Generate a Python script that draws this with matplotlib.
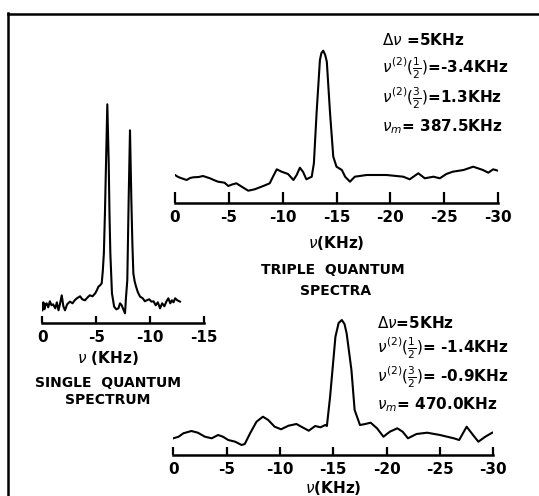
import matplotlib
matplotlib.use("Agg")
import matplotlib.pyplot as plt
from matplotlib.lines import Line2D

plt.rcParams["font.family"] = ["DejaVu Sans"]
plt.rcParams["mathtext.fontset"] = "dejavusans"
plt.rcParams["axes.unicode_minus"] = False

# ---- spectra (frequency in kHz, intensity in arbitrary units) ----
single_freq = [0, -0.1, -0.19, -0.3, -0.4, -0.55, -0.7, -0.85, -1.0, -1.2, -1.35, -1.5,
               -1.65, -1.8, -1.95, -2.1, -2.3, -2.56, -2.8, -3.0, -3.2, -3.5, -3.7, -3.95,
               -4.2, -4.4, -4.65, -4.9, -5.05, -5.2, -5.35, -5.5, -5.6, -5.7, -5.8, -5.9,
               -6.02, -6.15, -6.22, -6.3, -6.45, -6.65, -6.85, -7.05, -7.2, -7.35, -7.5,
               -7.66, -7.75, -7.87, -8.0, -8.12, -8.24, -8.34, -8.43, -8.55, -8.68, -8.85,
               -9.05, -9.3, -9.5, -9.67, -9.9, -10.1, -10.3, -10.5, -10.7, -10.9, -11.1,
               -11.3, -11.5, -11.67, -11.85, -12.0, -12.15, -12.3, -12.5, -12.75]
single_int = [13, 21, 14, 19, 20, 16, 22, 18, 19, 15, 21, 13,
              20, 28, 17, 13, 19, 21.7, 20, 23, 25, 27, 24, 23,
              26, 28, 27, 30, 33, 36.7, 38, 40, 52, 70, 110, 160,
              219, 160, 110, 70, 30, 16.7, 14, 15, 20, 18, 14,
              10, 26, 43, 126, 193, 126, 80, 50, 42, 36.7, 31,
              26.7, 25, 22, 23, 24, 21.7, 22, 18, 21, 15, 20,
              17, 22, 25, 20, 23, 21, 25, 23, 21.7]

triple1_freq = [0, -0.3, -0.62, -1.08, -1.4, -1.7, -2.2, -2.6, -3.25, -3.6, -4.0, -4.6,
                -4.95, -5.3, -5.7, -6.2, -6.8, -7.4, -8.2, -8.8, -9.1, -9.45, -9.9, -10.5,
                -11.0, -11.3, -11.6, -11.9, -12.2, -12.7, -12.9, -13.15, -13.46, -13.6,
                -13.77, -13.95, -14.1, -14.4, -14.7, -15.0, -15.5, -15.8, -16.25, -16.7,
                -17.8, -19.65, -21.2, -21.8, -22.6, -23.2, -24.0, -24.6, -25.2, -25.8,
                -26.8, -27.7, -28.6, -29.1, -29.55, -30]
triple1_int = [28, 26, 24.7, 23, 25, 25.7, 26, 27, 24.7, 23, 21.3, 20.3,
               17, 18.5, 19.7, 16.3, 12.3, 13.7, 17, 19.7, 26.3, 33.7, 31.3, 29,
               23, 28, 35.3, 31, 23.7, 26.3, 39.7, 90, 143, 150,
               152.3, 148, 141.3, 90, 46.3, 36.3, 33, 26.3, 21.3, 26.3,
               28, 28, 26.3, 23.7, 29.7, 24.7, 26.3, 24.7, 29, 31.3,
               33, 36.3, 33, 30.3, 33.7, 32.3]

triple2_freq = [0, -0.5, -0.94, -1.7, -2.3, -2.96, -3.6, -4.2, -4.65, -5.15, -5.8, -6.4,
                -6.7, -7.2, -7.8, -8.4, -8.9, -9.5, -10.1, -10.8, -11.55, -12.0, -12.7,
                -13.3, -13.8, -14.25, -14.4, -14.7, -15.2, -15.5, -15.8, -16.05, -16.25,
                -16.7, -17.0, -17.5, -18.0, -18.5, -19.1, -19.7, -20.3, -21.0, -21.5,
                -22.0, -22.8, -23.8, -25.0, -26.3, -26.8, -27.5, -28.1, -28.6, -29.25, -29.9]
triple2_int = [16.7, 18.3, 21.7, 24, 22.3, 18.3, 16.7, 20, 18.3, 15, 13.3, 10,
               11, 21.7, 33.3, 38.3, 35, 28.3, 25.7, 29.3, 31, 28.3, 24.3,
               29, 27.7, 30, 29, 58.3, 118.3, 132, 135, 131, 121.7,
               85, 45, 30, 31, 32.3, 26.7, 18.3, 23.3, 26.7, 23.3,
               16.7, 21, 22.3, 20, 16.7, 15, 28.3, 20, 13.3, 18.3, 22.3]

triple_ticks = [0, -5, -10, -15, -20, -25, -30]
single_ticks = [0, -5, -10, -15]

W, H = 539, 496
fig = plt.figure(figsize=(W / 100, H / 100), dpi=100)


def px_axes(x0, x1, ybase, height):
    return fig.add_axes([x0 / W, (H - ybase) / H, (x1 - x0) / W, height / H])


def ftext(x, y, s, **kw):
    kw.setdefault("fontweight", "bold")
    return fig.text(x / W, 1 - y / H, s, **kw)


def style_axis(ax, ticks, xmax, ticklen):
    ax.set_xlim(0, xmax)
    ax.set_xticks(ticks)
    ax.set_xticklabels([str(t) for t in ticks], fontsize=11, fontweight="bold")
    ax.set_yticks([])
    for side in ("top", "left", "right"):
        ax.spines[side].set_visible(False)
    ax.spines["bottom"].set_linewidth(1.8)
    ax.tick_params(axis="x", direction="in", length=ticklen, width=1.6, pad=5)
    ax.patch.set_visible(False)


ax_top = px_axes(175, 498, 203, 158)
ax_top.plot(triple1_freq, triple1_int, color="black", lw=1.5)
ax_top.set_ylim(0, 158)
style_axis(ax_top, triple_ticks, -30, 8)

ax_bot = px_axes(173.3, 493.3, 455, 145)
ax_bot.plot(triple2_freq, triple2_int, color="black", lw=1.5)
ax_bot.set_ylim(0, 145)
style_axis(ax_bot, triple_ticks, -30, 6)

ax_sq = px_axes(42.3, 204.3, 323.3, 230)
ax_sq.plot(single_freq, single_int, color="black", lw=1.5)
ax_sq.set_ylim(0, 230)
style_axis(ax_sq, single_ticks, -15, 5)

# axis titles
ftext(336, 243, r"$\nu$(KHz)", fontsize=11, ha="center", va="center")
ftext(333, 488, r"$\nu$(KHz)", fontsize=11, ha="center", va="center")
ftext(108, 358, r"$\nu$ (KHz)", fontsize=11, ha="center", va="center")

# panel captions
ftext(333, 270, "TRIPLE  QUANTUM", fontsize=10, ha="center", va="center")
ftext(336, 291, "SPECTRA", fontsize=10, ha="center", va="center")
ftext(108, 383, "SINGLE  QUANTUM", fontsize=10, ha="center", va="center")
ftext(108, 400, "SPECTRUM", fontsize=10, ha="center", va="center")

# parameters of the 387.5 kHz spectrum
ftext(382, 40, r"$\Delta\nu$ =5KHz", fontsize=11, va="center")
ftext(382, 68, r"$\nu^{(2)}(\frac{1}{2})$=-3.4KHz", fontsize=11, va="center")
ftext(382, 98, r"$\nu^{(2)}(\frac{3}{2})$=1.3KHz", fontsize=11, va="center")
ftext(382, 127, r"$\nu_m$= 387.5KHz", fontsize=11, va="center")

# parameters of the 470.0 kHz spectrum
ftext(377, 323, r"$\Delta\nu$=5KHz", fontsize=11, va="center")
ftext(377, 348, r"$\nu^{(2)}(\frac{1}{2})$= -1.4KHz", fontsize=11, va="center")
ftext(377, 377, r"$\nu^{(2)}(\frac{3}{2})$= -0.9KHz", fontsize=11, va="center")
ftext(377, 405, r"$\nu_m$= 470.0KHz", fontsize=11, va="center")

# frame lines
fig.add_artist(Line2D([8 / W, 1], [1 - 14 / H, 1 - 14 / H], transform=fig.transFigure,
                      color="black", lw=1.8))
fig.add_artist(Line2D([8 / W, 8 / W], [0, 1 - 13 / H], transform=fig.transFigure,
                      color="black", lw=1.8))

fig.savefig("out.png", dpi=100)
